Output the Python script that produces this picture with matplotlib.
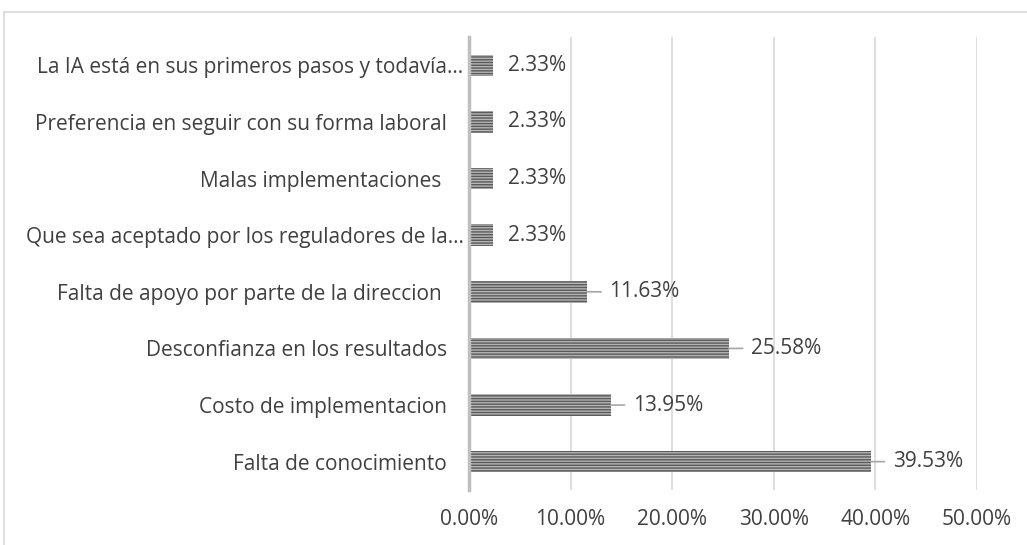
import numpy as np
import matplotlib.pyplot as plt
from matplotlib.lines import Line2D
from matplotlib.ticker import FuncFormatter
from matplotlib.transforms import ScaledTranslation

plt.rcParams['font.family'] = ['Open Sans', 'DejaVu Sans']
plt.rcParams['hatch.linewidth'] = 1.0

# datos (de abajo hacia arriba)
categorias = ['Falta de conocimiento',
              'Costo de implementacion',
              'Desconfianza en los resultados',
              'Falta de apoyo por parte de la direccion ',
              'Que sea aceptado por los reguladores de la…',
              'Malas implementaciones ',
              'Preferencia en seguir con su forma laboral',
              'La IA está en sus primeros pasos y todavía…']
valores = [39.53, 13.95, 25.58, 11.63, 2.33, 2.33, 2.33, 2.33]
ticks_x = [0, 10, 20, 30, 40, 50]

texto = '#404040'
fs = 15

fig = plt.figure(figsize=(10.27, 5.45), dpi=100)
ax = fig.add_axes([0.4567, 0.101, 0.4946, 0.831])

y = np.arange(len(categorias))
ax.barh(y, valores, height=0.38, color='#b5b5b5', edgecolor='#5a5a5a',
        hatch='------', linewidth=0, zorder=3)

for yi, v in zip(y, valores):
    if v > 5:
        # linea guia hasta la etiqueta
        ax.annotate(f'{v:.2f}%', xy=(v, yi), xytext=(16, 0),
                    textcoords='offset points', va='center', ha='left',
                    fontsize=fs, color=texto,
                    arrowprops=dict(arrowstyle='-', color='#a6a6a6', lw=1.2,
                                    shrinkA=4, shrinkB=0))
    else:
        ax.annotate(f'{v:.2f}%', xy=(v, yi), xytext=(11, 0),
                    textcoords='offset points', va='center', ha='left',
                    fontsize=fs, color=texto)

ax.set_xlim(0, 50)
ax.set_ylim(-0.5, len(categorias) - 0.5)
ax.set_xticks(ticks_x)
ax.xaxis.set_major_formatter(FuncFormatter(lambda v, p: f'{v:.2f}%'))
ax.set_yticks(y)
ax.set_yticklabels(categorias)
ax.tick_params(axis='both', length=0, labelsize=fs, labelcolor=texto)
ax.tick_params(axis='x', pad=14)
ax.tick_params(axis='y', pad=4)

# las etiquetas completas quedan mas separadas del eje que las recortadas
for lab in ax.get_yticklabels():
    if not lab.get_text().endswith('…'):
        lab.set_transform(lab.get_transform() +
                          ScaledTranslation(-12 / 72, 0, fig.dpi_scale_trans))

ax.grid(axis='x', color='#d9d9d9', lw=1.2, zorder=0)
for s in ['top', 'right', 'bottom']:
    ax.spines[s].set_visible(False)
ax.spines['left'].set_color('#bfbfbf')
ax.spines['left'].set_linewidth(2.5)
ax.spines['left'].set_zorder(4)

# borde del area del grafico
fig.add_artist(Line2D([0.004, 1.0], [0.978, 0.978], color='#d9d9d9', lw=1.2))
fig.add_artist(Line2D([0.004, 0.004], [0.0, 0.978], color='#d9d9d9', lw=1.2))

fig.savefig('out.png', dpi=100)
